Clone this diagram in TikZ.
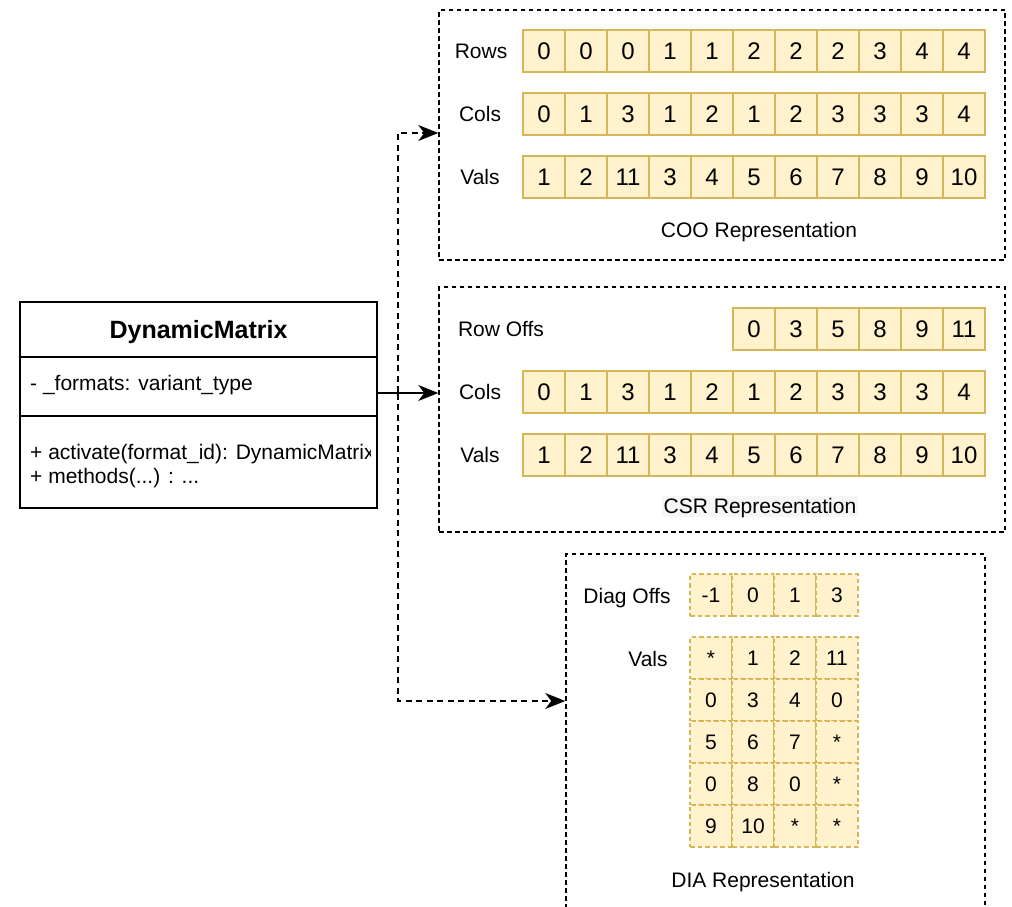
\documentclass[tikz,border=0pt]{standalone}
\usepackage{fontspec}
\setmainfont{Liberation Sans}
\usetikzlibrary{arrows.meta}
\definecolor{cellfill}{HTML}{FFF2CC}
\definecolor{cellline}{HTML}{D6B656}
\definecolor{lblbg}{HTML}{F5F6F8}
\tikzset{
  cell/.style={draw=cellline, fill=cellfill, line width=1.5pt, minimum width=42pt, minimum height=42pt,
    inner sep=0pt, font=\fontsize{24}{28}\selectfont, text height=17.2pt, text depth=0pt},
  dcell/.style={cell, dash pattern=on 4.5pt off 3pt, font=\fontsize{21}{25}\selectfont, text height=15pt},
  lbl/.style={inner sep=0pt, font=\fontsize{21}{25}\selectfont, text height=15pt, text depth=0pt},
  title/.style={inner sep=0pt, font=\fontsize{25}{29}\selectfont\bfseries, text height=17.9pt, text depth=0pt},
  group/.style={draw=black, line width=1.5pt, dash pattern=on 4.5pt off 3.5pt, inner sep=0pt},
  link/.style={line width=1.5pt, -{Stealth[length=20pt,width=16pt,inset=6pt]}},
  dlink/.style={link, dash pattern=on 6pt off 4.5pt},
}
\begin{document}
\begin{tikzpicture}[x=1pt,y=-1pt]
\useasboundingbox (0,0) rectangle (1012,907);
\clip (0,0) rectangle (1012,907);
\fill[white] (0,0) rectangle (1012,907);

% ---------- class box ----------
\node[draw=black, fill=white, line width=1.7pt, minimum width=357pt, minimum height=206pt, inner sep=0pt] (cls) at (198.5,405) {};
\draw[line width=1.7pt] (cls.west |- 0,357) -- (cls.east |- 0,357);
\draw[line width=1.7pt] (cls.west |- 0,416) -- (cls.east |- 0,416);
\node[title] (clsname) at (198.5,330) {DynamicMatrix};
\begin{scope}
  \clip (20,302) rectangle (370,508);
  \node[lbl, anchor=west] (attr) at (30,383) {- \_formats: variant\_type};
  \node[lbl, anchor=west] (meth1) at (30,452) {+ activate(format\_id): DynamicMatrix};
  \node[lbl, anchor=west] (meth2) at (30,476) {+ methods(...) : ...};
\end{scope}

% ---------- COO ----------
\node[group, minimum width=566pt, minimum height=250pt] (coo) at (722,135) {};
\node[lbl] (cooRowsL) at (481,51) {Rows};
\node[lbl] (cooColsL) at (480,114) {Cols};
\node[lbl] (cooValsL) at (480,177) {Vals};
\foreach \v [count=\i from 0] in {0,0,0,1,1,2,2,2,3,4,4}
  \node[cell] (cooR\i) at (544+42*\i,51) {\v};
\foreach \v [count=\i from 0] in {0,1,3,1,2,1,2,3,3,3,4}
  \node[cell] (cooC\i) at (544+42*\i,114) {\v};
\foreach \v [count=\i from 0] in {1,2,11,3,4,5,6,7,8,9,10}
  \node[cell] (cooV\i) at (544+42*\i,177) {\v};
\node[lbl] (cooTitle) at (759,230) {COO Representation};

% ---------- CSR ----------
\node[group, minimum width=566pt, minimum height=245pt] (csr) at (722,409.5) {};
\node[lbl] (csrRowL) at (501,329) {Row Offs};
\node[lbl] (csrColsL) at (480,392) {Cols};
\node[lbl] (csrValsL) at (480,455) {Vals};
\foreach \v [count=\i from 0] in {0,3,5,8,9,11}
  \node[cell] (csrR\i) at (754+42*\i,329) {\v};
\foreach \v [count=\i from 0] in {0,1,3,1,2,1,2,3,3,3,4}
  \node[cell] (csrC\i) at (544+42*\i,392) {\v};
\foreach \v [count=\i from 0] in {1,2,11,3,4,5,6,7,8,9,10}
  \node[cell] (csrV\i) at (544+42*\i,455) {\v};
\node[lbl, fill=lblbg, inner xsep=2pt, inner ysep=3pt] (csrTitle) at (760,506) {CSR Representation};

% ---------- DIA ----------
\node[group, minimum width=419pt, minimum height=380pt] (dia) at (775.5,744) {};
\node[lbl] (diaOffL) at (627,596) {Diag Offs};
\node[lbl] (diaValsL) at (648,659) {Vals};
\foreach \v [count=\i from 0] in {-1,0,1,3}
  \node[dcell] (diaO\i) at (711+42*\i,595) {\v};
\foreach \row [count=\r from 0] in {{*,1,2,11},{0,3,4,0},{5,6,7,*},{0,8,0,*},{9,10,*,*}}
  \foreach \v [count=\i from 0] in \row
    \node[dcell] (diaV\r\i) at (711+42*\i,658+42*\r) {\v};
\node[lbl] (diaTitle) at (763,880) {DIA Representation};

% ---------- connectors ----------
\coordinate (src) at (cls.east |- 0,393);
\coordinate (bend) at (398,393);
\coordinate (cooIn) at (coo.west |- 0,133);
\coordinate (diaIn) at (dia.west |- 0,701);
\draw[dlink] (src) -- (bend) |- (cooIn);
\draw[dlink] (src) -- (bend) |- (diaIn);
\draw[link] (src) -- (src -| csr.west);
\end{tikzpicture}
\end{document}
